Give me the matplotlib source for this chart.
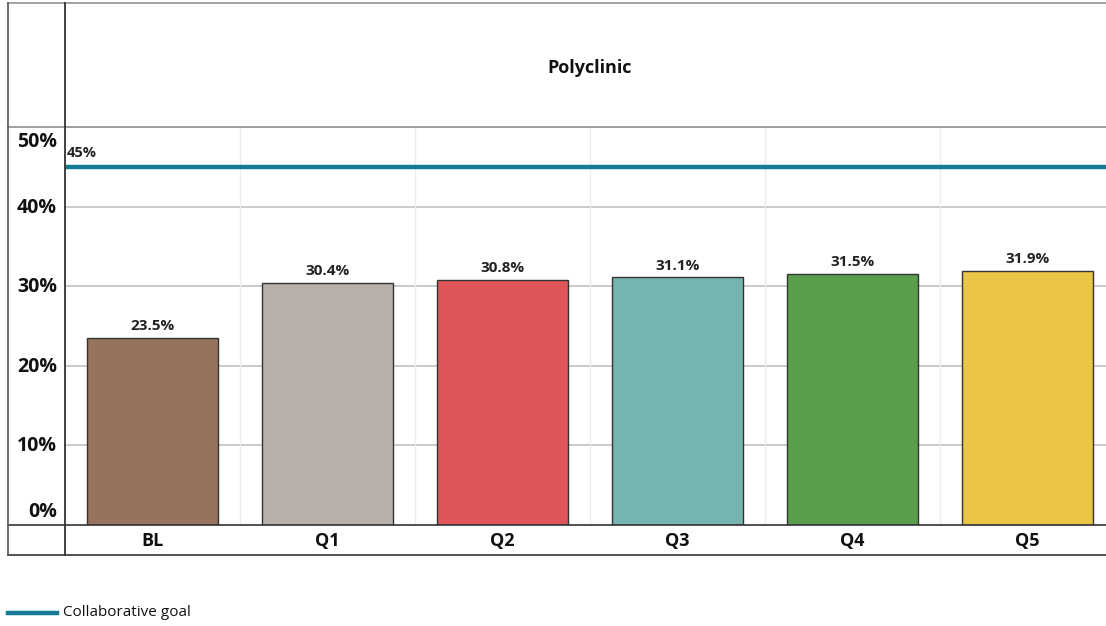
import matplotlib
matplotlib.use("Agg")
import matplotlib.pyplot as plt
from matplotlib.lines import Line2D

plt.rcParams['font.family'] = ['Open Sans', 'DejaVu Sans']

categories = ["BL", "Q1", "Q2", "Q3", "Q4", "Q5"]
values = [23.5, 30.4, 30.8, 31.1, 31.5, 31.9]
colors = ["#96735C", "#B8B0AB", "#E05558", "#76B4B0", "#5A9E4C", "#EBC546"]
goal = 45
yticks = [0, 10, 20, 30, 40, 50]
title = "Polyclinic"
legend_label = "Collaborative goal"

W, H = 1106, 626
fig = plt.figure(figsize=(W / 100, H / 100), dpi=100)

def fx(px):
    return px / W

def fy(py):
    return 1 - py / H

x0, x1 = 65, 1115
y_top, y_bot = 127, 525
ax = fig.add_axes([fx(x0), fy(y_bot), fx(x1) - fx(x0), fy(y_top) - fy(y_bot)])
ax.set_xlim(-0.5, len(categories) - 0.5)
ax.set_ylim(0, 50)

for yv in yticks[1:]:
    ax.axhline(yv, color="#c6c6c6", lw=1.3, zorder=0)
for i in range(1, len(categories)):
    ax.axvline(i - 0.5, color="#ececec", lw=1.0, zorder=0)

xs = list(range(len(categories)))
ax.bar(xs, values, width=0.743, color=colors, edgecolor="#333333", linewidth=1.0, zorder=2)
for x, v in zip(xs, values):
    ax.text(x, v + 0.6, f"{v:.1f}%", ha="center", va="bottom", fontsize=11, fontweight="bold", color="#222222")

ax.axhline(goal, color="#157A96", lw=3.2, zorder=3)
ax.text(-0.49, goal + 0.8, f"{goal}%", ha="left", va="bottom", fontsize=10.5, fontweight="bold", color="#222222")

ax.set_xticks([])
ax.set_yticks([])
for s in ax.spines.values():
    s.set_visible(False)

# y tick labels (Excel-style: end labels nudged inside the plot band)
for yv in yticks:
    py = y_bot - (y_bot - y_top) * yv / 50
    if yv == yticks[-1]:
        py += 15
    elif yv == yticks[0]:
        py -= 13
    else:
        py += 1
    fig.text(fx(57), fy(py), f"{yv}%", ha="right", va="center", fontsize=14, fontweight="bold", color="#111111")

# category labels
for x, c in zip(xs, categories):
    px = x0 + (x + 0.5) * (x1 - x0) / len(categories)
    fig.text(fx(px), fy(541), c, ha="center", va="center", fontsize=13, fontweight="bold", color="#111111")

# title
fig.text(fx((x0 + x1) / 2), fy(68), title, ha="center", va="center", fontsize=13, fontweight="bold", color="#111111")

# frame lines
def hline(py, xa, xb, color, lw):
    fig.add_artist(Line2D([fx(xa), fx(xb)], [fy(py), fy(py)], color=color, lw=lw, transform=fig.transFigure))

def vline(px, ya, yb, color, lw):
    fig.add_artist(Line2D([fx(px), fx(px)], [fy(ya), fy(yb)], color=color, lw=lw, transform=fig.transFigure))

hline(3, 8, W, "#9a9a9a", 1.3)
hline(127, 8, W, "#9a9a9a", 1.3)
hline(525, 8, W, "#333333", 1.2)
hline(555, 8, W, "#333333", 1.2)
vline(8, 3, 555, "#555555", 1.2)
vline(65, 3, 555, "#333333", 1.3)

# legend
hline(613, 8, 57, "#157A96", 3.2)
fig.text(fx(63), fy(613), legend_label, ha="left", va="center", fontsize=11, color="#111111")

fig.savefig("out.png", dpi=100)
